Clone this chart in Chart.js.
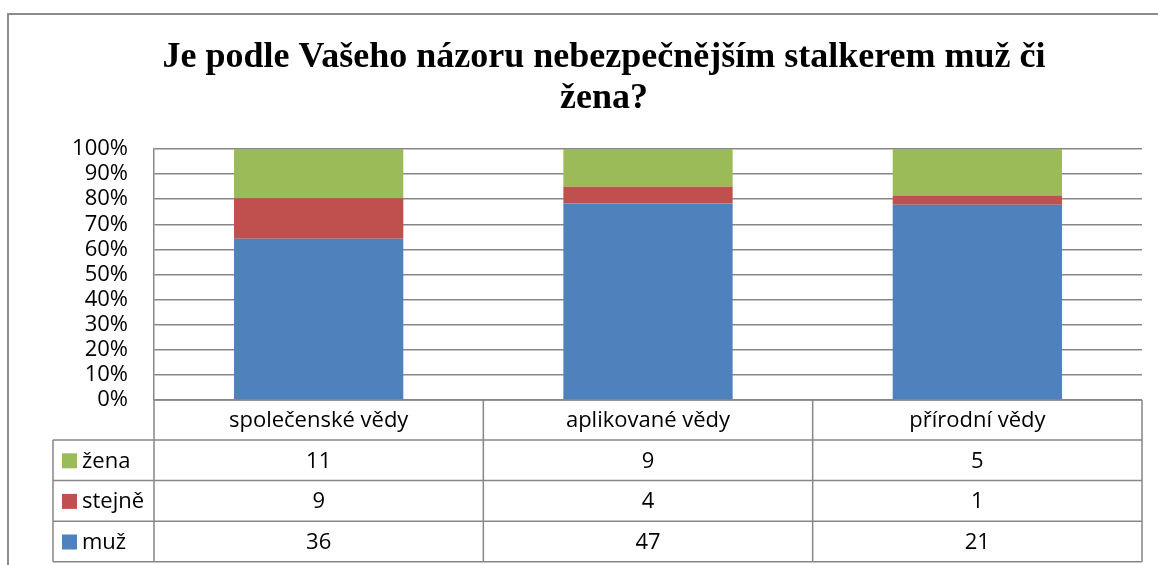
<!DOCTYPE html>
<html>
<head>
<meta charset="utf-8">
<script src="https://cdn.jsdelivr.net/npm/chart.js@4.4.1/dist/chart.umd.min.js"></script>
<style>
    html, body { margin: 0; padding: 0; background: #fff; }
    #wrap { width: 1158px; height: 565px; }
</style>
</head>
<body>
<div id="wrap"><canvas id="stalkerChart" width="1158" height="565"></canvas></div>
<script>
// Data (counts from the table under the chart)
const categories = ['společenské vědy', 'aplikované vědy', 'přírodní vědy'];
const muz = [36, 47, 21];
const stejne = [9, 4, 1];
const zena = [11, 9, 5];
const seriesNames = ['muž', 'stejně', 'žena'];
const seriesColors = ['#4F81BD', '#C0504D', '#9BBB59'];
const titleLines = ['Je podle Vašeho názoru nebezpečnějším stalkerem muž či', 'žena?'];

const LINE = '#878787';
const FONT = '"Open Sans", sans-serif';
const FONT_SIZE = 22;

// share of each answer within a category
const totals = categories.map((c, i) => muz[i] + stejne[i] + zena[i]);
const pct = arr => arr.map((v, i) => v / totals[i] * 100);

// Frame + title
const framePlugin = {
    id: 'frame',
    beforeDraw(chart) {
        const ctx = chart.ctx;
        ctx.save();
        ctx.fillStyle = '#fff';
        ctx.fillRect(0, 0, chart.width, chart.height);
        ctx.strokeStyle = '#8c8c8c';
        ctx.lineWidth = 2;
        ctx.beginPath();
        ctx.moveTo(8, chart.height);
        ctx.lineTo(8, 14);
        ctx.lineTo(chart.width, 14);
        ctx.stroke();

        ctx.fillStyle = '#000';
        ctx.font = 'bold 36px "Liberation Serif", serif';
        ctx.textAlign = 'center';
        ctx.textBaseline = 'alphabetic';
        ctx.fillText(titleLines[0], 604, 67);
        ctx.fillText(titleLines[1], 604, 108);
        ctx.restore();
    }
};

// Data table under the plot
const tablePlugin = {
    id: 'dataTable',
    afterDraw(chart) {
        const ctx = chart.ctx;
        const area = chart.chartArea;
        const x = chart.scales.x;
        const catW = (area.right - area.left) / categories.length;
        const headTop = area.bottom;
        const rowTop = headTop + 40;
        const rowH = 40.6;
        const tableLeft = 53;
        const nRows = chart.data.datasets.length;
        const tableBottom = rowTop + rowH * nRows;

        ctx.save();
        ctx.strokeStyle = LINE;
        ctx.lineWidth = 1.5;
        ctx.beginPath();
        // horizontal lines
        ctx.moveTo(area.left, headTop); ctx.lineTo(area.right, headTop);
        for (let r = 0; r <= nRows; r++) {
            const y = rowTop + r * rowH;
            ctx.moveTo(tableLeft, y); ctx.lineTo(area.right, y);
        }
        // vertical lines
        ctx.moveTo(tableLeft, rowTop); ctx.lineTo(tableLeft, tableBottom);
        for (let c = 0; c <= categories.length; c++) {
            const xx = area.left + c * catW;
            ctx.moveTo(xx, headTop); ctx.lineTo(xx, tableBottom);
        }
        ctx.stroke();

        ctx.font = FONT_SIZE + 'px ' + FONT;
        ctx.textBaseline = 'middle';
        const rows = chart.data.datasets.slice().reverse();
        rows.forEach((ds, r) => {
            const yMid = rowTop + r * rowH + rowH / 2;
            ctx.fillStyle = ds.backgroundColor;
            ctx.fillRect(62, yMid - 7, 15, 15);
            ctx.fillStyle = '#000';
            ctx.textAlign = 'left';
            ctx.fillText(ds.label, 82, yMid + 1);
            ctx.textAlign = 'center';
            ds.counts.forEach((v, i) => {
                ctx.fillText(String(v), x.getPixelForValue(i), yMid + 1);
            });
        });
        ctx.restore();
    }
};

const stalkerChart = new Chart(document.getElementById('stalkerChart').getContext('2d'), {
    type: 'bar',
    data: {
        labels: categories,
        datasets: [
            { label: seriesNames[0], data: pct(muz), counts: muz, backgroundColor: seriesColors[0] },
            { label: seriesNames[1], data: pct(stejne), counts: stejne, backgroundColor: seriesColors[1] },
            { label: seriesNames[2], data: pct(zena), counts: zena, backgroundColor: seriesColors[2] }
        ]
    },
    options: {
        responsive: false,
        animation: false,
        devicePixelRatio: 1,
        layout: {
            padding: { top: 149, right: 16, left: 0, bottom: 0 }
        },
        datasets: {
            bar: {
                categoryPercentage: 1,
                barPercentage: 0.514,
                borderWidth: 0
            }
        },
        plugins: {
            legend: { display: false },
            tooltip: { enabled: false },
            title: { display: false }
        },
        scales: {
            x: {
                stacked: true,
                grid: { display: false, drawTicks: false },
                border: { display: false },
                ticks: {
                    color: '#000',
                    font: { family: FONT, size: FONT_SIZE },
                    padding: 8,
                    maxRotation: 0,
                    autoSkip: false
                },
                afterFit(scale) { scale.height = 165; }
            },
            y: {
                stacked: true,
                min: 0,
                max: 100,
                grid: { color: LINE, lineWidth: 1.5, drawTicks: false },
                border: { display: true, color: LINE, width: 1.5 },
                ticks: {
                    stepSize: 10,
                    color: '#000',
                    font: { family: FONT, size: FONT_SIZE, lineHeight: 1 },
                    padding: 26,
                    autoSkip: false,
                    callback: value => value + '%'
                },
                afterFit(scale) { scale.width = 154; }
            }
        }
    },
    plugins: [framePlugin, tablePlugin]
});
</script>
</body>
</html>
